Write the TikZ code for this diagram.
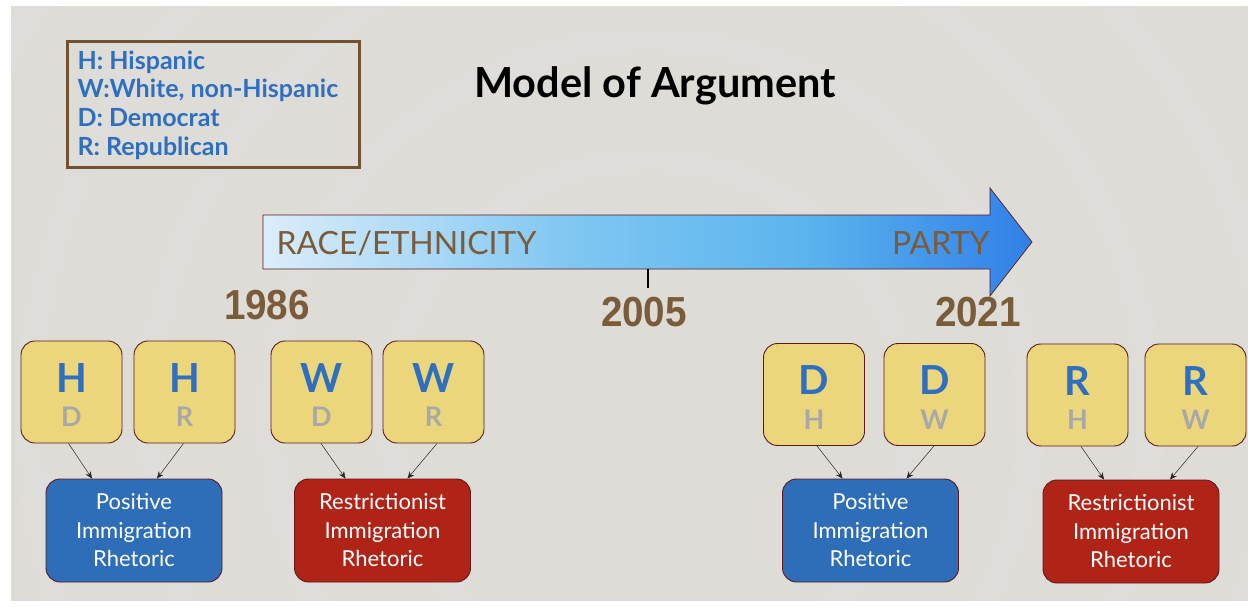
\documentclass[tikz,border=0pt]{standalone}
\usepackage{fontspec}
\setmainfont{Lato}
\newfontfamily\yearfont{Liberation Sans}
\usetikzlibrary{arrows.meta}
\definecolor{slidebg}{RGB}{222,220,215}
\definecolor{keyblue}{RGB}{46,111,191}
\definecolor{brownish}{RGB}{122,92,58}
\definecolor{framebrown}{RGB}{112,82,48}
\definecolor{boxyellow}{RGB}{236,214,123}
\definecolor{boxedge}{RGB}{92,26,30}
\definecolor{posblue}{RGB}{46,109,184}
\definecolor{resred}{RGB}{176,36,24}
\definecolor{lettergrey}{RGB}{168,168,168}
\pgfdeclarehorizontalshading{timeshade}{100bp}{
  rgb(0bp)=(0.86,0.93,0.98);
  rgb(25bp)=(0.86,0.93,0.98);
  rgb(45bp)=(0.50,0.78,0.95);
  rgb(60bp)=(0.36,0.71,0.93);
  rgb(75bp)=(0.19,0.50,0.91);
  rgb(100bp)=(0.19,0.50,0.91)}
\tikzset{
  groupbox/.style={draw=boxedge, line width=0.9pt, fill=boxyellow, rounded corners=14pt,
    minimum width=101pt, minimum height=102pt, inner sep=0pt},
  rhetbox/.style={draw=boxedge, line width=0.9pt, rounded corners=14pt,
    minimum width=176pt, minimum height=103pt, inner sep=0pt, text=white,
    align=center, font=\fontsize{22}{28.5}\selectfont},
  posbox/.style={rhetbox, fill=posblue},
  resbox/.style={rhetbox, fill=resred},
  bigletter/.style={text=keyblue, font=\fontsize{40}{40}\selectfont\bfseries},
  smallletter/.style={text=lettergrey, font=\fontsize{27}{27}\selectfont\bfseries},
  yearlabel/.style={text=brownish, font=\fontsize{42}{42}\selectfont\yearfont\bfseries},
  axislabel/.style={text=brownish, font=\fontsize{32}{32}\selectfont},
  link/.style={-{Stealth[length=7pt,width=6pt]}, line width=0.5pt, draw=black!85},
}
\begin{document}
\begin{tikzpicture}[x=1pt,y=-1pt]
  % page and slide background
  \useasboundingbox (0,0) rectangle (1248,607);
  \fill[white] (0,0) rectangle (1248,607);
  \fill[slidebg] (11,6) rectangle (1248,601);
  \begin{scope}
    \clip (11,6) rectangle (1248,601);
    \foreach \r in {260,380,500,620,740}
      \draw[white, opacity=0.05, line width=30pt] (650,420) circle[radius=\r];
  \end{scope}

  % legend
  \node[draw=framebrown, line width=3pt,
        minimum width=292pt, minimum height=126pt, inner sep=0pt] (legend) at (213,105) {};
  \node[anchor=west, text=keyblue, align=left, font=\fontsize{25}{28.6}\selectfont\bfseries]
    (legendtext) at (74,105) {H: Hispanic\\W:White, non-Hispanic\\D: Democrat\\R: Republican};

  % title
  \node[font=\fontsize{41.5}{41.5}\selectfont\bfseries] (title) at (655,86) {Model of Argument};

  % time arrow
  \path[shading=timeshade, draw=boxedge, line width=0.7pt]
    (263,215) -- (990,215) -- (990,188) -- (1032,242) -- (990,296) -- (990,269) -- (263,269) -- cycle;
  \node[axislabel, anchor=west] (race) at (273,243) {RACE/ETHNICITY};
  \node[axislabel, anchor=east] (party) at (993,243) {PARTY};
  \coordinate (ticktop) at (648,269);
  \coordinate (tickbot) at (648,288);
  \draw[line width=1.2pt] (ticktop) -- (tickbot);

  % years
  \node[yearlabel] (y1986) at (267,305) {\scalebox{0.92}[1]{1986}};
  \node[yearlabel] (y2005) at (644,312) {\scalebox{0.92}[1]{2005}};
  \node[yearlabel] (y2021) at (978,312) {\scalebox{0.92}[1]{2021}};

  % group boxes
  \foreach \name/\cx/\cy/\big/\small in {
      hd/71.5/392/H/D, hr/184.5/392/H/R, wd/321.5/392/W/D, wr/433.5/392/W/R,
      dh/814/394.5/D/H, dw/934.5/394.5/D/W, rh/1077.5/395/R/H, rw/1195.5/395/R/W} {
    \node[groupbox] (\name) at (\cx,\cy) {};
    \node[bigletter] at ([yshift=14pt]\name.center) {\big};
    \node[smallletter] at ([yshift=-25pt]\name.center) {\small};
  }

  % rhetoric boxes
  \node[posbox] (pos1) at (134,530.5) {Positive\\Immigration\\Rhetoric};
  \node[resbox] (res1) at (382.5,530.5) {Restrictionist\\Immigration\\Rhetoric};
  \node[posbox] (pos2) at (870.5,530.5) {Positive\\Immigration\\Rhetoric};
  \node[resbox] (res2) at (1131,531.5) {Restrictionist\\Immigration\\Rhetoric};

  % links
  \draw[link] ([xshift=-3pt]hd.south) -- ([xshift=-42pt]pos1.north);
  \draw[link] ([xshift=-1pt]hr.south) -- ([xshift=23pt]pos1.north);
  \draw[link] ([xshift=-0.5pt]wd.south) -- ([xshift=-37pt]res1.north);
  \draw[link] ([xshift=3.5pt]wr.south) -- ([xshift=25pt]res1.north);
  \draw[link] ([xshift=3pt]dh.south) -- ([xshift=-28pt]pos2.north);
  \draw[link] ([xshift=-0.5pt]dw.south) -- ([xshift=36pt]pos2.north);
  \draw[link] ([xshift=3.5pt]rh.south) -- ([xshift=-27pt]res2.north);
  \draw[link] ([xshift=2.5pt]rw.south) -- ([xshift=39pt]res2.north);
\end{tikzpicture}
\end{document}
